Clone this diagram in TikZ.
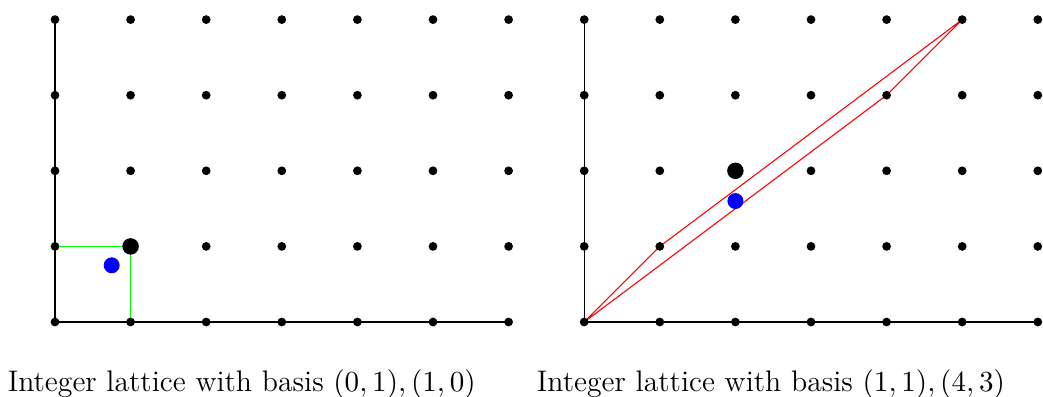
\documentclass[tikz,border=0pt]{standalone}
\begin{document}
\begin{tikzpicture}[x=1cm,y=1cm,
  dot/.style={circle,fill=black,inner sep=0pt,minimum size=3.3pt},
  bigdot/.style={circle,fill=black,inner sep=0pt,minimum size=6.2pt},
  bluedot/.style={circle,fill=blue,inner sep=0pt,minimum size=6pt},
  axis/.style={black,line width=0.4pt},
  captext/.style={font=\fontsize{11.2}{13}\selectfont,inner sep=0pt}]
\useasboundingbox (-0.7275,-0.9815) rectangle (13.069,4.2593);
% left panel
\foreach \i in {0,...,6}{\foreach \j in {0,...,4}{\coordinate (L-\i-\j) at (\i,\j);}}
\draw[axis] (L-0-4) -- (L-0-0) -- (L-6-0);
\draw[green,line width=0.4pt] (L-0-1) -- (L-1-1) -- (L-1-0);
\foreach \i in {0,...,6}{\foreach \j in {0,...,4}{\node[dot] at (L-\i-\j) {};}}
\node[bigdot] (Lbig) at (L-1-1) {};
\node[bluedot] (Lblue) at (0.75,0.75) {};
\node[captext] (Lcap) at (2.47,-0.82) {Integer lattice with basis $(0,1),(1,0)$};
% right panel
\begin{scope}[xshift=7cm]
\foreach \i in {0,...,6}{\foreach \j in {0,...,4}{\coordinate (R-\i-\j) at (\i,\j);}}
\draw[axis] (R-0-4) -- (R-0-0) -- (R-6-0);
\draw[red,line width=0.4pt] (R-0-0) -- (R-1-1) -- (R-5-4) -- (R-4-3) -- cycle;
\foreach \i in {0,...,6}{\foreach \j in {0,...,4}{\node[dot] at (R-\i-\j) {};}}
\node[bigdot] (Rbig) at (R-2-2) {};
\node[bluedot] (Rblue) at (2,1.6) {};
\node[captext] (Rcap) at (2.47,-0.82) {Integer lattice with basis $(1,1),(4,3)$};
\end{scope}
\end{tikzpicture}
\end{document}
